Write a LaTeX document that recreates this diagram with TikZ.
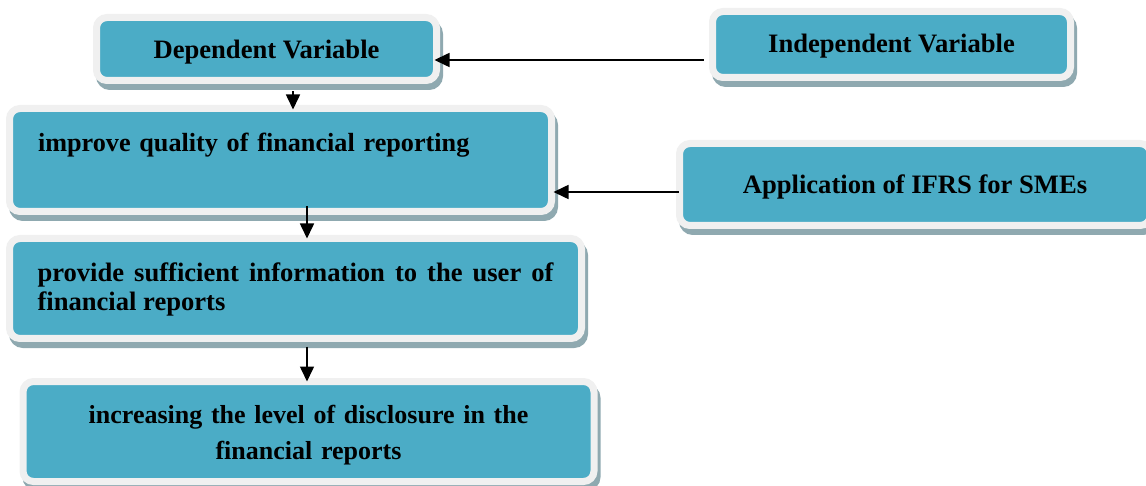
\documentclass[tikz,border=0pt]{standalone}
\usepackage{fontspec}
\setmainfont{Liberation Serif}
\usetikzlibrary{arrows.meta}
\definecolor{boxfill}{HTML}{4BACC6}
\definecolor{rim}{HTML}{F0F0F0}
\definecolor{shade}{HTML}{8FA9B0}
\begin{document}
\begin{tikzpicture}[x=1pt,y=-1pt,
  vbox/.style={rectangle, rounded corners=10.5pt, fill=boxfill, draw=rim, line width=7pt, inner sep=0pt,
    preaction={draw=shade, fill=shade, line width=7pt, transform canvas={shift={(3,6)}}},
    font=\bfseries\fontsize{26.6pt}{29pt}\selectfont},
  arr/.style={-{Triangle[length=15pt,width=14pt]}, line width=1.6pt, black}]
\useasboundingbox (0,0) rectangle (1146,486);

\node[vbox, minimum width=340pt, minimum height=63pt, text height=20pt, text depth=0pt] (dep) at (266.5,49) {Dependent Variable};
\node[vbox, minimum width=358pt, minimum height=66pt, text height=17pt, text depth=0pt] (indep) at (891.5,44.5) {Independent Variable};
\node[vbox, minimum width=542pt, minimum height=103pt, text width=485pt, align=left, text height=18pt, text depth=34pt, font=\bfseries\fontsize{26.2pt}{29pt}\selectfont] (imp) at (280.5,160) {improve quality of financial reporting};
\node[vbox, minimum width=572pt, minimum height=100pt, text width=516pt, align=justify, text height=20pt, text depth=33pt] (prov) at (295.5,288.5) {provide sufficient information to the user of\linebreak financial reports};
\node[vbox, minimum width=571pt, minimum height=100pt, text width=500pt, align=center, text height=20pt, text depth=37pt, font=\bfseries\fontsize{26pt}{36pt}\selectfont] (inc) at (308.5,431.5) {increasing the level of disclosure in the\\ financial reports};
\node[vbox, minimum width=471pt, minimum height=82pt, text height=19pt, text depth=0pt] (app) at (915,184.5) {Application of IFRS for SMEs};

\coordinate (ya) at (0,60);
\coordinate (yb) at (0,192);
\coordinate (xa) at (293,0);
\coordinate (xb) at (307,0);
\draw[arr, shorten <=5.5pt, shorten >=-5.5pt] (indep.west |- ya) -- (dep.east |- ya);
\draw[arr, shorten <=-2.5pt, shorten >=-1.5pt] (app.west |- yb) -- (imp.east |- yb);
\draw[arr, shorten <=7.5pt, shorten >=-4.5pt] (dep.south -| xa) -- (imp.north -| xa);
\draw[arr, shorten <=-8.5pt, shorten >=-3.5pt] (imp.south -| xb) -- (prov.north -| xb);
\draw[arr, shorten <=4.5pt, shorten >=-3.5pt] (prov.south -| xb) -- (inc.north -| xb);
\end{tikzpicture}
\end{document}
